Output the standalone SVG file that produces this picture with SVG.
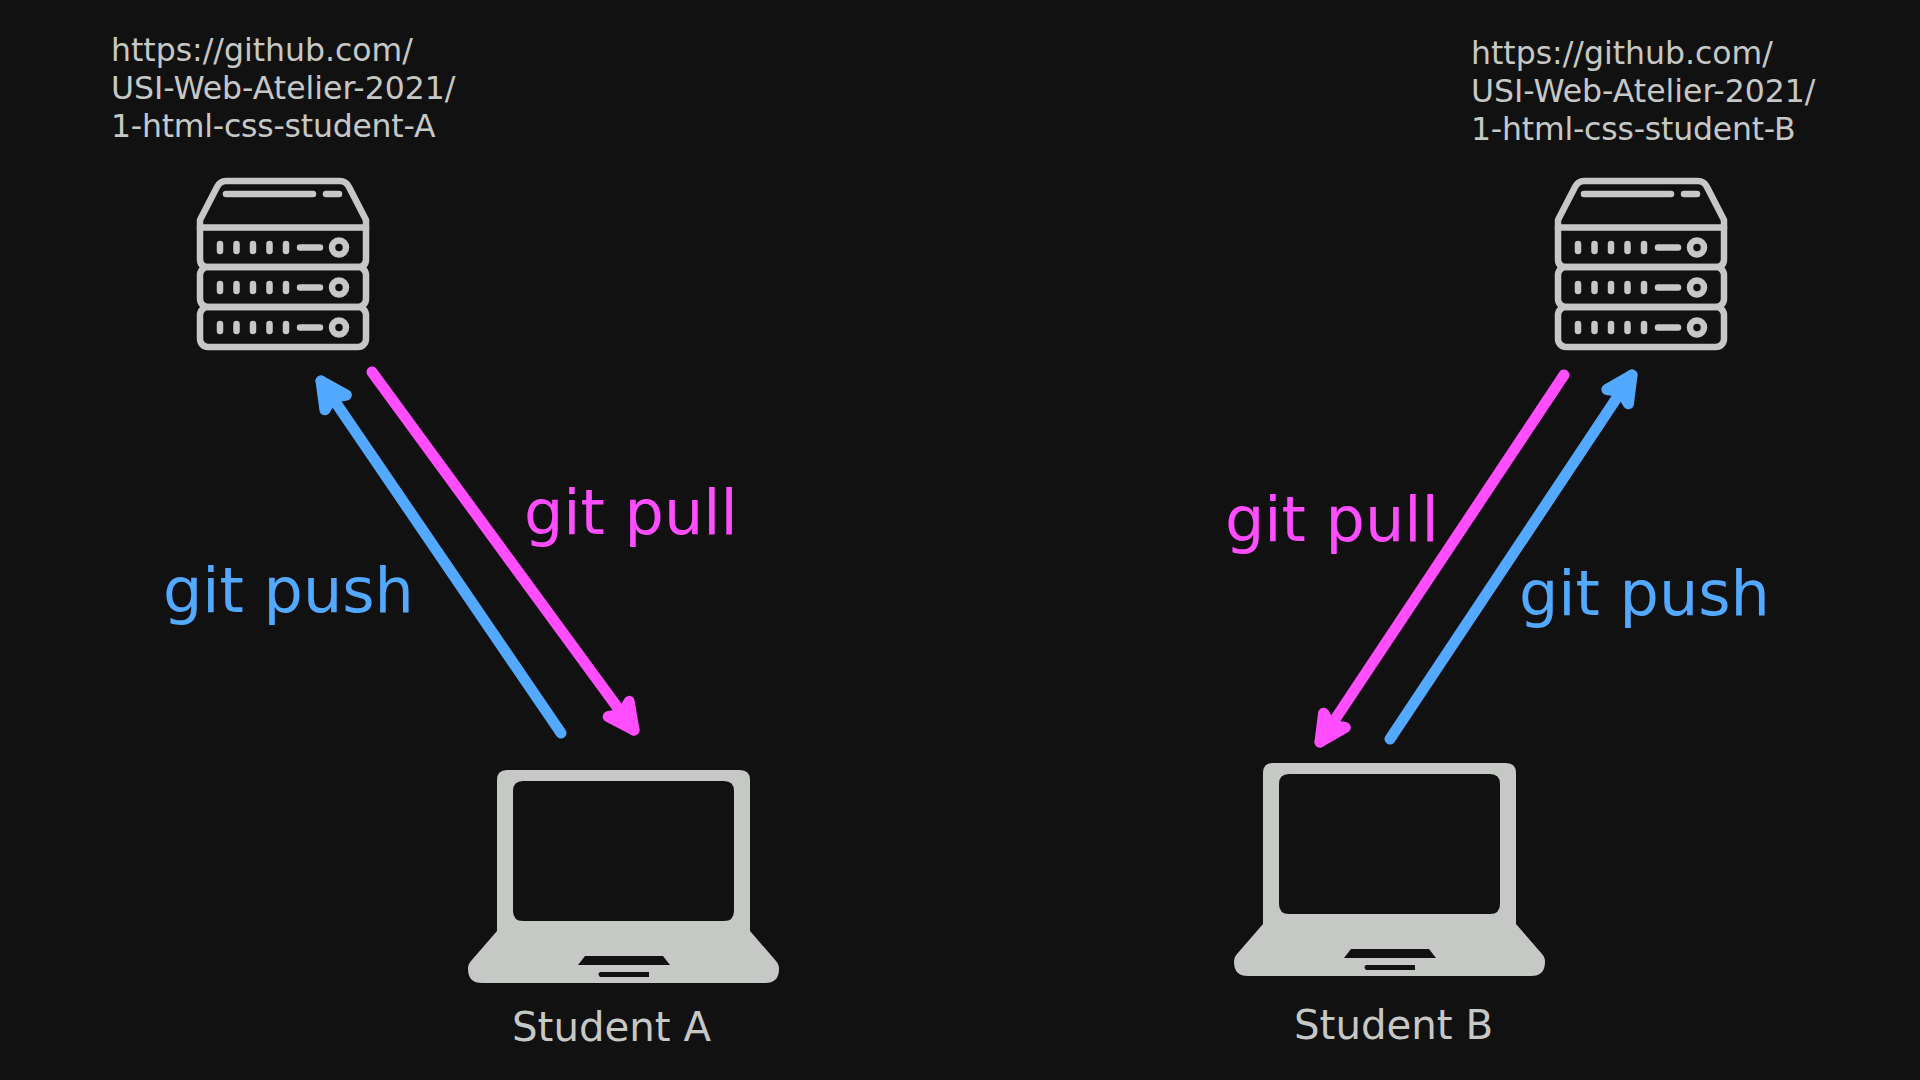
<svg xmlns="http://www.w3.org/2000/svg" width="1920" height="1080" viewBox="0 0 1920 1080">
<style>
text{font-family:"DejaVu Sans",sans-serif}
.url{font-size:31.5px;fill:#c6c8c6}
.name{font-size:40.3px;fill:#c6c8c6}
.blue{font-size:62px;fill:#53a8ff}
.pink{font-size:62px;fill:#ff4dff}
.s{fill:none;stroke:#c6c8c6;stroke-width:6.5;stroke-linejoin:round;stroke-linecap:round}
.k{fill:#c6c8c6}
.l{fill:none;stroke-width:11;stroke-linecap:round}
</style>
<defs>
<marker id="hb" markerUnits="userSpaceOnUse" markerWidth="60" markerHeight="60" refX="40" refY="30" orient="auto"><path d="M40 30L14 17L20 30L14 43Z" fill="#53a8ff" stroke="#53a8ff" stroke-width="11" stroke-linejoin="round"/></marker>
<marker id="hp" markerUnits="userSpaceOnUse" markerWidth="60" markerHeight="60" refX="40" refY="30" orient="auto"><path d="M40 30L14 17L20 30L14 43Z" fill="#ff4dff" stroke="#ff4dff" stroke-width="11" stroke-linejoin="round"/></marker>
<g id="srv">
<path class="s" d="M200 227.500V220L217 187Q220 181 226 181H340Q346 181 349 187L366 220V227.500Z"/>
<path class="s" d="M200 227.500V259Q200 267 208 267H358Q366 267 366 259V227.500"/>
<rect class="s" x="200" y="267" width="166" height="40" rx="8"/>
<rect class="s" x="200" y="307" width="166" height="40" rx="8"/>
<path class="s" d="M226 194H313M326 194H339"/>
<g id="row"><path class="s" d="M220 244V251M236.500 244V251M253 244V251M269.500 244V251M286 244V251M300 247.500H320"/><circle class="s" cx="339" cy="247.500" r="7"/></g>
<use href="#row" y="40"/><use href="#row" y="80"/>
</g>
<g id="lap">
<path class="k" fill-rule="evenodd" d="M497 931V780Q497 770 507 770H740Q750 770 750 780V931L776 961Q779 964 779 969Q779 983 765 983H482Q468 983 468 969Q468 964 471 961ZM523 781Q513 781 513 791V911Q513 921 523 921H724Q734 921 734 911V791Q734 781 724 781ZM585 956L578 965H670L663 956ZM600 972Q597 974 600 977H649V972Z"/>
</g>
</defs>
<rect width="1920" height="1080" fill="#111112"/>
<g id="connectors">
<line class="l" stroke="#53a8ff" x1="561" y1="733" x2="321" y2="381" marker-end="url(#hb)"/>
<line class="l" stroke="#ff4dff" x1="372" y1="372" x2="634" y2="730" marker-end="url(#hp)"/>
<line class="l" stroke="#53a8ff" x1="1390" y1="739" x2="1632" y2="375" marker-end="url(#hb)"/>
<line class="l" stroke="#ff4dff" x1="1564" y1="375" x2="1320" y2="742" marker-end="url(#hp)"/>
</g>
<g id="server-a"><use href="#srv"/><text class="url" x="111" y="61">https://github.com/</text><text class="url" x="111" y="99">USI-Web-Atelier-2021/</text><text class="url" x="111" y="137" textLength="324.500">1-html-css-student-A</text></g>
<g id="server-b"><use href="#srv" x="1358"/><text class="url" x="1471" y="64">https://github.com/</text><text class="url" x="1471" y="102">USI-Web-Atelier-2021/</text><text class="url" x="1471" y="140" textLength="324.500">1-html-css-student-B</text></g>
<g id="laptop-a"><use href="#lap"/><text class="name" x="512" y="1041">Student A</text></g>
<g id="laptop-b"><use href="#lap" x="766" y="-7"/><text class="name" x="1294" y="1039">Student B</text></g>
<text class="blue" x="163" y="612">git push</text>
<text class="pink" x="524" y="534">git pull</text>
<text class="pink" x="1225" y="541">git pull</text>
<text class="blue" x="1519" y="615">git push</text>
</svg>
